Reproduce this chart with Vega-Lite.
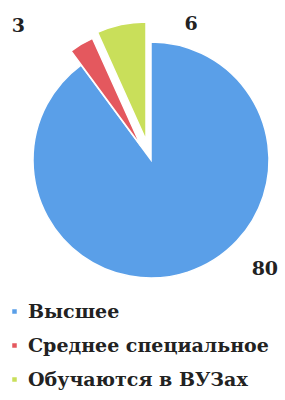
{
  "$schema": "https://vega.github.io/schema/vega-lite/v6.json",
  "width": 302,
  "height": 320,
  "padding": 0,
  "background": "white",
  "config": {"view": {"stroke": null}},
  "data": {"values": [
    {"cat": "Высшее", "v": 80, "o": 1},
    {"cat": "Среднее специальное", "v": 3, "o": 2},
    {"cat": "Обучаются в ВУЗах", "v": 6, "o": 3}
  ]},
  "encoding": {
    "theta": {"field": "v", "type": "quantitative", "stack": true},
    "order": {"field": "o", "type": "quantitative"}
  },
  "layer": [
    {
      "mark": {"type": "arc", "radius": 118, "stroke": "white", "strokeWidth": 1.5},
      "encoding": {
        "color": {
          "field": "cat", "type": "nominal",
          "scale": {"domain": ["Высшее", "Среднее специальное", "Обучаются в ВУЗах"], "range": ["#5a9fe8", "#e4585e", "#c9df5a"]},
          "legend": {
            "title": null, "orient": "none", "legendX": 5, "legendY": 302,
            "symbolType": "square", "symbolSize": 36,
            "labelFont": "DejaVu Serif", "labelFontSize": 19, "labelFontWeight": "bold",
            "labelColor": "#222", "rowPadding": 14, "labelOffset": 4, "labelLimit": 300
          }
        },
        "opacity": {"condition": {"test": "datum.cat === 'Высшее'", "value": 1}, "value": 0}
      }
    },
    {
      "mark": {"type": "arc", "radius": 118, "stroke": "white", "strokeWidth": 1.5, "xOffset": -10, "yOffset": -14},
      "encoding": {
        "color": {"field": "cat", "type": "nominal"},
        "opacity": {"condition": {"test": "datum.cat === 'Среднее специальное'", "value": 1}, "value": 0}
      }
    },
    {
      "mark": {"type": "arc", "radius": 118, "stroke": "white", "strokeWidth": 1.5, "xOffset": -5, "yOffset": -20},
      "encoding": {
        "color": {"field": "cat", "type": "nominal"},
        "opacity": {"condition": {"test": "datum.cat === 'Обучаются в ВУЗах'", "value": 1}, "value": 0}
      }
    },
    {
      "mark": {"type": "text", "radius": 118, "dx": -73, "dy": -32, "font": "DejaVu Serif", "fontSize": 19, "fontWeight": "bold", "color": "#222", "align": "center", "baseline": "middle"},
      "encoding": {
        "text": {"condition": {"test": "datum.cat === 'Среднее специальное'", "field": "v", "type": "quantitative"}, "value": ""}
      }
    },
    {
      "mark": {"type": "text", "radius": 118, "dx": 65, "dy": -21, "font": "DejaVu Serif", "fontSize": 19, "fontWeight": "bold", "color": "#222", "align": "center", "baseline": "middle"},
      "encoding": {
        "text": {"condition": {"test": "datum.cat === 'Обучаются в ВУЗах'", "field": "v", "type": "quantitative"}, "value": ""}
      }
    },
    {
      "mark": {"type": "text", "radius": 118, "dx": 77, "dy": -3, "font": "DejaVu Serif", "fontSize": 19, "fontWeight": "bold", "color": "#222", "align": "center", "baseline": "middle"},
      "encoding": {
        "text": {"condition": {"test": "datum.cat === 'Высшее'", "field": "v", "type": "quantitative"}, "value": ""}
      }
    }
  ]
}
